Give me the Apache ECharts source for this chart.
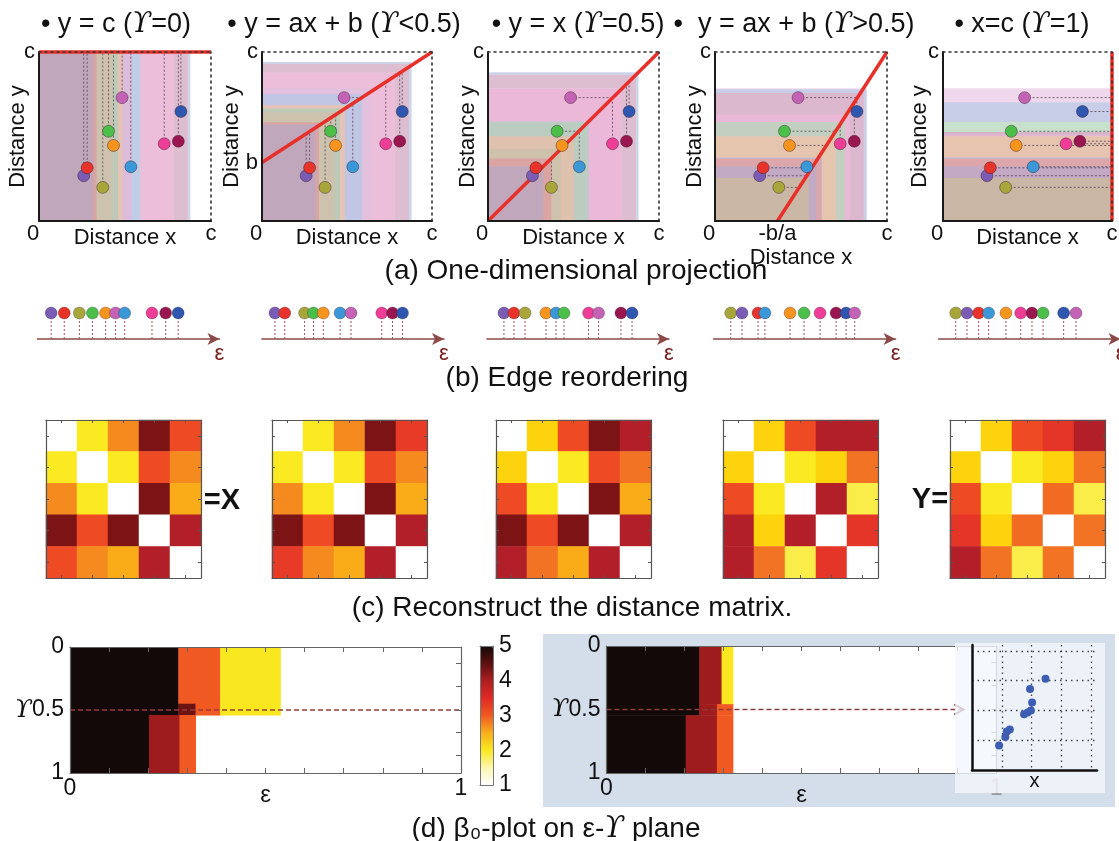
<!DOCTYPE html>
<html>
<head>
<meta charset="utf-8">
<script src="https://cdn.jsdelivr.net/npm/echarts@6/dist/echarts.min.js"></script>
<style>
  html, body { margin: 0; padding: 0; background: #ffffff; }
  #chart { width: 1119px; height: 841px; }
</style>
</head>
<body>
<div id="chart"></div>
<script>
// ---------- data ----------
// Ten edges, each a point (distance x, distance y) in the square [0, c], c = 1
const edgeColors = ['#7b5cb4', '#e8332b', '#a8a63a', '#4cbf4a', '#f7941e', '#c462b6', '#3b98d8', '#ee3d97', '#9a1650', '#2f57b0'];
const edgeX = [0.26, 0.28, 0.371, 0.404, 0.433, 0.483, 0.534, 0.728, 0.81, 0.825];
const edgeY = [0.268, 0.315, 0.199, 0.531, 0.447, 0.73, 0.321, 0.457, 0.472, 0.648];

// Projection line for each ϒ, given by two end points
const projTitles = ['• y = c ({u|ϒ}=0)', '• y = ax + b ({u|ϒ}<0.5)', '• y = x ({u|ϒ}=0.5)', '•  y = ax + b ({u|ϒ}>0.5)', '• x=c ({u|ϒ}=1)'];
const projLines = [
  [[0, 1], [1, 1]],
  [[0, 0.346], [1, 1]],
  [[0, 0], [1, 1]],
  [[0.363, 0], [1, 1]],
  [[1, 0], [1, 1]]
];

// Edge order along ε after each projection (index into the edge arrays) and position on the ε axis
const edgeOrder = [
  [0, 1, 2, 3, 4, 5, 6, 7, 8, 9],
  [0, 1, 2, 3, 4, 6, 5, 7, 8, 9],
  [0, 1, 2, 4, 6, 3, 7, 5, 8, 9],
  [2, 0, 1, 6, 4, 3, 7, 8, 9, 5],
  [2, 0, 1, 6, 4, 7, 8, 3, 9, 5]
];
const edgePos = [
  [0.075, 0.147, 0.230, 0.302, 0.374, 0.429, 0.479, 0.629, 0.704, 0.773],
  [0.071, 0.125, 0.234, 0.283, 0.337, 0.429, 0.489, 0.658, 0.717, 0.772],
  [0.093, 0.148, 0.209, 0.324, 0.379, 0.423, 0.558, 0.613, 0.736, 0.797],
  [0.094, 0.156, 0.244, 0.282, 0.420, 0.497, 0.585, 0.673, 0.728, 0.775],
  [0.094, 0.156, 0.220, 0.275, 0.370, 0.451, 0.513, 0.574, 0.687, 0.755]
];

// Reconstructed 5x5 distance matrices (normalised distance)
const distX = [
  [0, 0.3, 0.55, 1.0, 0.7],
  [0.3, 0, 0.3, 0.7, 0.55],
  [0.55, 0.3, 0, 1.0, 0.48],
  [1.0, 0.7, 1.0, 0, 0.9],
  [0.7, 0.55, 0.48, 0.9, 0]
];
const distA = [
  [0, 0.3, 0.55, 1.0, 0.76],
  [0.3, 0, 0.3, 0.7, 0.55],
  [0.55, 0.3, 0, 1.0, 0.48],
  [1.0, 0.7, 1.0, 0, 0.9],
  [0.76, 0.55, 0.48, 0.9, 0]
];
const distB = [
  [0, 0.4, 0.7, 1.0, 0.9],
  [0.4, 0, 0.3, 0.7, 0.6],
  [0.7, 0.3, 0, 1.0, 0.48],
  [1.0, 0.7, 1.0, 0, 0.9],
  [0.9, 0.6, 0.48, 0.9, 0]
];
const distC = [
  [0, 0.4, 0.7, 0.9, 0.9],
  [0.4, 0, 0.3, 0.4, 0.6],
  [0.7, 0.3, 0, 0.9, 0.25],
  [0.9, 0.4, 0.9, 0, 0.78],
  [0.9, 0.6, 0.25, 0.78, 0]
];
const distY = [
  [0, 0.4, 0.7, 0.78, 0.9],
  [0.4, 0, 0.3, 0.4, 0.6],
  [0.7, 0.3, 0, 0.62, 0.25],
  [0.78, 0.4, 0.62, 0, 0.6],
  [0.9, 0.6, 0.25, 0.6, 0]
];
const matrices = [distX, distA, distB, distC, distY];

// β0 on the ε-ϒ plane: blocks [ε from, ε to, ϒ from, ϒ to, β0]
const beta0Left = [
  [0, 0.277, 0, 0.54, 5],
  [0.277, 0.384, 0, 0.45, 3],
  [0.277, 0.321, 0.45, 0.54, 4.4],
  [0.321, 0.384, 0.45, 0.54, 3],
  [0.384, 0.538, 0, 0.54, 2],
  [0, 0.202, 0.54, 1, 5],
  [0.202, 0.28, 0.54, 1, 4.1],
  [0.28, 0.321, 0.54, 1, 3]
];
const beta0Right = [
  [0, 0.238, 0, 0.545, 5],
  [0.238, 0.295, 0, 0.458, 4.1],
  [0.295, 0.324, 0, 0.458, 2],
  [0.238, 0.283, 0.458, 0.545, 4.1],
  [0.283, 0.324, 0.458, 0.545, 3],
  [0, 0.203, 0.545, 1, 5],
  [0.203, 0.283, 0.545, 1, 4.1],
  [0.283, 0.324, 0.545, 1, 3]
];
const gammaTicks = [0.13, 0.31, 0.5, 0.68, 0.86];
const gammaCut = 0.5;
const arrowEnd = 0.915;
const betaTicks = [1, 2, 3, 4, 5];

// Points of the inset scatter (x, y)
const insetX = [0.91, 1.12, 1.17, 1.27, 1.75, 1.87, 1.98, 2.02, 1.95, 2.47];
const insetY = [0.82, 1.11, 1.29, 1.36, 1.87, 1.93, 2.0, 2.27, 2.72, 3.07];

// ---------- styling ----------
const FONT = '"Liberation Sans", Arial, Helvetica, sans-serif';
const SERIF = '"DejaVu Serif", "Liberation Serif", serif';
const INK = '#111111';
const hotScale = ['#ffffff', '#fefad0', '#f9ee70', '#fbea22', '#fcd30c', '#f8a21b', '#f27323', '#ee4a24', '#e32f29', '#b31f28', '#7c1416'];
const betaScale = ['#ffffff', '#fdf6b0', '#f9e81f', '#f8ae1c', '#f05a22', '#e02a24', '#ae1e22', '#5c1010', '#130909'];

const grid = [], xAxis = [], yAxis = [], series = [], graphic = [];
const addGrid = o => { grid.push(Object.assign({ outerBoundsMode: 'none', containLabel: false }, o)); return grid.length - 1; };
const addX = o => { xAxis.push(o); return xAxis.length - 1; };
const addY = o => { yAxis.push(o); return yAxis.length - 1; };
const addSeries = o => { series.push(o); return series.length - 1; };
const bare = { axisTick: { show: false }, axisLabel: { show: false }, splitLine: { show: false } };
const txt = (size, extra) => Object.assign({ fontSize: size, fontFamily: FONT, color: INK }, extra || {});

function addText(text, x, y, size, extra) {
  graphic.push(Object.assign({
    type: 'text', x: x, y: y, z: 20,
    style: {
      text: text, fontSize: size, fontFamily: FONT, fill: INK,
      align: 'center', verticalAlign: 'middle', textAlign: 'center', textVerticalAlign: 'middle',
      rich: { u: { fontFamily: SERIF, fontStyle: 'italic', fontSize: size + 1, fill: INK } }
    }
  }, extra || {}));
}

// Move a point onto the projection line along +x or +y
function project(line, x, y) {
  const [[x0, y0], [x1, y1]] = line;
  if (x0 === x1) return [x1, y];
  const a = (y1 - y0) / (x1 - x0), b = y0 - a * x0;
  const yl = a * x + b;
  if (y <= yl) return [x, yl];
  return [(y - b) / a, y];
}

// ---------- (a) one-dimensional projection ----------
const aLayout = [
  { left: 39, width: 172, gapY: 10, gapX: 6, tx: 116 },
  { left: 262, width: 170, gapY: 19, gapX: 6, tx: 344 },
  { left: 488, width: 171, gapY: 9, gapX: 6, tx: 578 },
  { left: 715, width: 172, gapY: 9, gapX: 26, tx: 794 },
  { left: 943, width: 169, gapY: 12, gapX: 6, tx: 1022 }
];
const BAND = 0.055;

projLines.forEach((line, i) => {
  const L = aLayout[i];
  const g = addGrid({ left: L.left, top: 52, width: L.width, height: 169 });
  const xLab = [[0, '0'], [1, 'c']];
  const yLab = [[1, 'c']];
  if (i === 3) xLab.splice(1, 0, [line[0][0], '-b/a']);
  if (i === 1) yLab.unshift([line[0][1], 'b']);
  const pick = (pairs, v) => { const p = pairs.find(q => Math.abs(q[0] - v) < 1e-9); return p ? p[1] : ''; };

  const xi = addX({
    gridIndex: g, type: 'value', min: 0, max: 1, position: 'bottom', z: 6,
    axisLine: { show: true, onZero: false, lineStyle: { color: '#1a1a1a', width: 2 } },
    axisTick: { show: false }, splitLine: { show: false },
    axisLabel: {
      customValues: xLab.map(p => p[0]), showMinLabel: true, showMaxLabel: true, margin: 2,
      fontSize: 22, fontFamily: FONT, color: INK,
      formatter: v => { const s = pick(xLab, v); return s === '0' ? '{o|0}' : s; },
      rich: { o: { padding: [0, 12, 0, 0], fontSize: 22, fontFamily: FONT, color: INK } }
    },
    name: 'Distance x', nameLocation: 'middle', nameGap: L.gapX, nameMoveOverlap: false,
    nameTextStyle: txt(22, { verticalAlign: 'top' })
  });
  addX(Object.assign({
    gridIndex: g, type: 'value', min: 0, max: 1, position: 'top', z: 6,
    axisLine: { show: true, onZero: false, lineStyle: { color: '#333', type: [2, 4], width: 1.6 } }
  }, bare));
  const yi = addY({
    gridIndex: g, type: 'value', min: 0, max: 1, position: 'left', z: 6,
    axisLine: { show: true, onZero: false, lineStyle: { color: '#1a1a1a', width: 2 } },
    axisTick: { show: false }, splitLine: { show: false },
    axisLabel: {
      customValues: yLab.map(p => p[0]), showMinLabel: true, showMaxLabel: true, margin: 4,
      fontSize: 22, fontFamily: FONT, color: INK, formatter: v => pick(yLab, v)
    },
    name: 'Distance y', nameLocation: 'middle', nameGap: L.gapY, nameMoveOverlap: false,
    nameTextStyle: txt(22)
  });
  addY(Object.assign({
    gridIndex: g, type: 'value', min: 0, max: 1, position: 'right', z: 6,
    axisLine: { show: true, onZero: false, lineStyle: { color: '#333', type: [2, 4], width: 1.6 } }
  }, bare));

  // Each edge sweeps the box [0, q + BAND]; nested boxes, largest first
  const proj = edgeX.map((x, k) => project(line, x, edgeY[k]));
  const boxes = proj.map((q, k) => [Math.min(q[0] + BAND, 1), Math.min(q[1] + BAND, 1), k])
    .sort((p, q) => (q[0] + q[1]) - (p[0] + p[1]));
  const bands = boxes.map((b, j) => {
    const inner = boxes[j + 1] || [0, 0];
    return [b[0], b[1], b[2], inner[0], inner[1]];
  });

  // shaded sweep regions: faint full box plus a stronger rim outside the next box
  addSeries({
    type: 'custom', xAxisIndex: xi, yAxisIndex: yi, z: 1, silent: true, data: bands,
    renderItem: (params, api) => {
      const o = api.coord([0, 0]);
      const p = api.coord([api.value(0), api.value(1)]);
      const q = api.coord([api.value(3), api.value(4)]);
      const col = edgeColors[api.value(2)];
      return {
        type: 'group', children: [
          { type: 'rect', shape: { x: o[0], y: p[1], width: p[0] - o[0], height: o[1] - p[1] }, style: { fill: col, opacity: 0.055 } },
          {
            type: 'polygon',
            shape: { points: [[o[0], p[1]], [p[0], p[1]], [p[0], o[1]], [q[0], o[1]], [q[0], q[1]], [o[0], q[1]]] },
            style: { fill: col, opacity: 0.2 }
          }
        ]
      };
    }
  });
  // guide from each point to the line
  addSeries({
    type: 'custom', xAxisIndex: xi, yAxisIndex: yi, z: 2, silent: true,
    data: proj.map((q, k) => [edgeX[k], edgeY[k], q[0], q[1]]),
    renderItem: (params, api) => {
      const a = api.coord([api.value(0), api.value(1)]);
      const b = api.coord([api.value(2), api.value(3)]);
      return {
        type: 'line', shape: { x1: a[0], y1: a[1], x2: b[0], y2: b[1] },
        style: { stroke: '#5e4a5a', lineWidth: 1, lineDash: [2, 2], opacity: 0.85 }
      };
    }
  });
  // projection line
  addSeries({
    type: 'line', xAxisIndex: xi, yAxisIndex: yi, z: 3, clip: false, silent: true,
    data: line, symbol: 'none', lineStyle: { color: '#e8302a', width: 3.5 }
  });
  // edges
  addSeries({
    type: 'scatter', xAxisIndex: xi, yAxisIndex: yi, z: 4, silent: true,
    data: edgeX.map((x, k) => [x, edgeY[k], k]), symbolSize: 12,
    itemStyle: { color: p => edgeColors[p.data[2]], borderColor: 'rgba(50,30,40,0.55)', borderWidth: 0.8, opacity: 1 }
  });

  addText(projTitles[i], L.tx, 25, 27);
});
addText('(a) One-dimensional projection', 576, 271, 28);

// ---------- (b) edge reordering ----------
const bLeft = [37.5, 262, 487, 713.6, 938.6];
edgeOrder.forEach((order, r) => {
  const g = addGrid({ left: bLeft[r], top: 313, width: 182, height: 26 });
  const xi = addX({
    gridIndex: g, type: 'value', min: 0, max: 1, position: 'bottom',
    axisLine: { show: true, onZero: false, symbol: ['none', 'arrow'], symbolSize: [9, 12], lineStyle: { color: '#8b4a48', width: 1.6 } },
    axisTick: { show: false }, axisLabel: { show: false }, splitLine: { show: false },
    name: 'ε', nameLocation: 'end', nameGap: 0, nameMoveOverlap: false,
    nameTextStyle: { fontSize: 22, fontFamily: FONT, color: '#7a2222', align: 'center', verticalAlign: 'top', padding: [4, 0, 0, 0] }
  });
  const yi = addY(Object.assign({ gridIndex: g, type: 'value', min: 0, max: 1, show: false }, bare));
  const pts = order.map((k, j) => [edgePos[r][j], 1, k]);
  addSeries({
    type: 'custom', xAxisIndex: xi, yAxisIndex: yi, z: 2, silent: true, data: pts,
    renderItem: (params, api) => {
      const a = api.coord([api.value(0), 1]);
      const b = api.coord([api.value(0), 0]);
      return { type: 'line', shape: { x1: a[0], y1: a[1], x2: b[0], y2: b[1] }, style: { stroke: '#a0505a', lineWidth: 1, lineDash: [2, 2] } };
    }
  });
  addSeries({
    type: 'scatter', xAxisIndex: xi, yAxisIndex: yi, z: 4, silent: true, data: pts, symbolSize: 12,
    itemStyle: { color: p => edgeColors[p.data[2]], borderColor: 'rgba(50,30,40,0.5)', borderWidth: 0.6, opacity: 1 }
  });
});
addText('(b) Edge reordering', 567, 378, 28);

// ---------- (c) reconstruct the distance matrix ----------
const cLeft = [46, 272, 496, 723, 950];
const cats = ['1', '2', '3', '4', '5'];
const heatIdx = [];
const edgeAxis = (extra) => Object.assign({
  type: 'category', data: cats, z: 6,
  axisLine: { show: true, onZero: false, lineStyle: { color: '#555', width: 1.2 } },
  axisTick: { show: true, inside: true, alignWithLabel: true, length: 3, lineStyle: { color: '#555' } },
  axisLabel: { show: false }, splitLine: { show: false }
}, extra);
matrices.forEach((m, n) => {
  const g = addGrid({ left: cLeft[n], top: 420, width: 155, height: 158 });
  const xi = addX(edgeAxis({ gridIndex: g, position: 'bottom' }));
  addX(edgeAxis({ gridIndex: g, position: 'top' }));
  const yi = addY(edgeAxis({ gridIndex: g, position: 'left', inverse: true }));
  addY(edgeAxis({ gridIndex: g, position: 'right', inverse: true }));
  const data = [];
  m.forEach((row, r) => row.forEach((v, c) => data.push([c, r, v])));
  heatIdx.push(addSeries({ type: 'heatmap', xAxisIndex: xi, yAxisIndex: yi, data: data, silent: true, z: 2 }));
});
const boldStyle = t => ({ style: { text: t, fontSize: 29, fontWeight: 'bold', fontFamily: FONT, fill: INK, align: 'center', verticalAlign: 'middle' } });
addText('=X', 222, 501, 29, boldStyle('=X'));
addText('Y=', 930, 500, 29, boldStyle('Y='));
addText('(c) Reconstruct the distance matrix.', 572, 608, 28);

// ---------- (d) β0-plot on the ε-ϒ plane ----------
const betaIdx = [];
function betaPanel(box, blocks, endLabelColor) {
  const g = addGrid(Object.assign({ show: true, backgroundColor: '#ffffff', borderWidth: 0 }, box));
  const frame = { show: true, onZero: false, lineStyle: { color: '#666', width: 1.2 } };
  const xi = addX({
    gridIndex: g, type: 'value', min: 0, max: 1, interval: 0.1, position: 'bottom', z: 4,
    axisLine: frame,
    axisTick: { show: true, inside: true, length: 5, lineStyle: { color: '#666' } },
    splitLine: { show: false },
    axisLabel: {
      customValues: [0, 1], showMinLabel: true, showMaxLabel: true, margin: 4, fontSize: 23, fontFamily: FONT, color: INK,
      formatter: v => v === 1 ? '{e|1}' : String(v),
      rich: { e: { fontSize: 23, fontFamily: FONT, color: endLabelColor } }
    },
    name: 'ε', nameLocation: 'middle', nameGap: 10, nameMoveOverlap: false, nameTextStyle: txt(24, { verticalAlign: 'top' })
  });
  addX({
    gridIndex: g, type: 'value', min: 0, max: 1, interval: 0.1, position: 'top', z: 4,
    axisLine: frame,
    axisTick: { show: true, inside: true, length: 5, lineStyle: { color: '#666' } },
    axisLabel: { show: false }, splitLine: { show: false }
  });
  const yi = addY({
    gridIndex: g, type: 'value', min: 0, max: 1, inverse: true, position: 'left', z: 4,
    axisLine: frame,
    axisTick: { show: false }, splitLine: { show: false },
    axisLabel: {
      customValues: [0, 0.5, 1], showMinLabel: true, showMaxLabel: true, margin: 6,
      fontSize: 23, fontFamily: FONT, color: INK,
      formatter: v => v === 0.5 ? '{u|ϒ}0.5' : String(v),
      rich: { u: { fontFamily: SERIF, fontStyle: 'italic', fontSize: 25, color: INK } }
    }
  });
  addY({
    gridIndex: g, type: 'value', min: 0, max: 1, inverse: true, position: 'right', z: 4,
    axisLine: frame,
    axisTick: { show: true, inside: true, length: 5, customValues: gammaTicks, lineStyle: { color: '#666' } },
    axisLabel: { show: false }, splitLine: { show: false }
  });
  betaIdx.push(addSeries({
    type: 'custom', xAxisIndex: xi, yAxisIndex: yi, z: 2, silent: true, data: blocks,
    renderItem: (params, api) => {
      const p0 = api.coord([api.value(0), api.value(2)]);
      const p1 = api.coord([api.value(1), api.value(3)]);
      return {
        type: 'rect',
        shape: { x: p0[0], y: p0[1], width: p1[0] - p0[0] + 0.5, height: p1[1] - p0[1] + 0.5 },
        style: { fill: api.visual('color') }
      };
    }
  }));
  return { xi, yi };
}

// right-hand panel background
graphic.push({ type: 'rect', z: -10, silent: true, shape: { x: 543, y: 634, width: 572, height: 173 }, style: { fill: '#d3deea' } });

const left = betaPanel({ left: 70, top: 647, width: 391, height: 126 }, beta0Left, INK);
addSeries({
  type: 'line', xAxisIndex: left.xi, yAxisIndex: left.yi, z: 3, silent: true, symbol: 'none',
  data: [[0, gammaCut], [1, gammaCut]], lineStyle: { color: '#9a3a3a', width: 1.5, type: [5, 3] }
});

const right = betaPanel({ left: 606.5, top: 646, width: 390, height: 127 }, beta0Right, '#9a9a9a');
addSeries({
  type: 'custom', xAxisIndex: right.xi, yAxisIndex: right.yi, z: 3, silent: true,
  data: [[arrowEnd, gammaCut]],
  renderItem: (params, api) => {
    const a = api.coord([0, api.value(1)]);
    const b = api.coord([api.value(0), api.value(1)]);
    return {
      type: 'group', children: [
        { type: 'line', shape: { x1: a[0], y1: a[1], x2: b[0], y2: b[1] }, style: { stroke: '#8e3b3b', lineWidth: 1.5, lineDash: [5, 3] } },
        { type: 'polyline', shape: { points: [[b[0] - 9, b[1] - 5], [b[0], b[1]], [b[0] - 9, b[1] + 5]] }, style: { stroke: '#6e2a2a', lineWidth: 2, fill: null } }
      ]
    };
  }
});

// inset: translucent card with the scatter of points
graphic.push({ type: 'rect', z: 5, silent: true, shape: { x: 955, y: 643, width: 150, height: 150 }, style: { fill: 'rgba(243,246,251,0.8)' } });
const gi = addGrid({ left: 972, top: 645, width: 125, height: 125 });
const insetAxis = (extra) => Object.assign({
  type: 'value', min: 0, max: 4.2, interval: 1, z: 10,
  axisLine: { show: true, onZero: false, lineStyle: { color: '#111', width: 2.5 } },
  axisTick: { show: false }, axisLabel: { show: false },
  splitLine: { show: true, showMinLine: false, showMaxLine: false, lineStyle: { color: '#444', width: 1.3, type: [1.5, 4] } }
}, extra);
const ixi = addX(insetAxis({ gridIndex: gi, position: 'bottom', name: 'x', nameLocation: 'middle', nameGap: 1, nameMoveOverlap: false, nameTextStyle: txt(20, { verticalAlign: 'top' }) }));
const iyi = addY(insetAxis({ gridIndex: gi, position: 'left' }));
addSeries({
  type: 'scatter', xAxisIndex: ixi, yAxisIndex: iyi, z: 12, silent: true, symbolSize: 8,
  data: insetX.map((x, k) => [x, insetY[k]]), itemStyle: { color: '#3d5db3', opacity: 1 }
});

// colour bar frame and labels
const gb = addGrid({ left: 480, top: 646, width: 13, height: 139 });
const barLine = { show: true, onZero: false, lineStyle: { color: '#777', width: 1 } };
addX(Object.assign({ gridIndex: gb, type: 'value', min: 0, max: 1, position: 'bottom', z: 10, axisLine: barLine }, bare));
addX(Object.assign({ gridIndex: gb, type: 'value', min: 0, max: 1, position: 'top', z: 10, axisLine: barLine }, bare));
addY(Object.assign({ gridIndex: gb, type: 'value', min: 1, max: 5, position: 'left', z: 10, axisLine: barLine }, bare));
addY({
  gridIndex: gb, type: 'value', min: 1, max: 5, interval: 1, position: 'right', z: 10,
  axisLine: barLine, axisTick: { show: false }, splitLine: { show: false },
  axisLabel: { customValues: betaTicks, margin: 6, fontSize: 23, fontFamily: FONT, color: INK }
});

addText('(d) β₀-plot on ε-{u|ϒ} plane', 556, 829, 28);

const option = {
  animation: false,
  backgroundColor: '#ffffff',
  grid, xAxis, yAxis, series,
  graphic: { elements: graphic },
  visualMap: [
    {
      type: 'continuous', show: false, min: 0, max: 1, dimension: 2,
      seriesIndex: heatIdx, inRange: { color: hotScale }
    },
    {
      type: 'continuous', show: true, min: 1, max: 5, dimension: 4,
      seriesIndex: betaIdx, inRange: { color: betaScale },
      left: 480, top: 646, itemWidth: 13, itemHeight: 139, padding: 0,
      calculable: false, text: null, hoverLink: false, realtime: false,
      textStyle: { color: 'transparent' }
    }
  ]
};

const chart = echarts.init(document.getElementById('chart'), null, { renderer: 'canvas', width: 1119, height: 841 });
chart.setOption(option);
</script>
</body>
</html>
